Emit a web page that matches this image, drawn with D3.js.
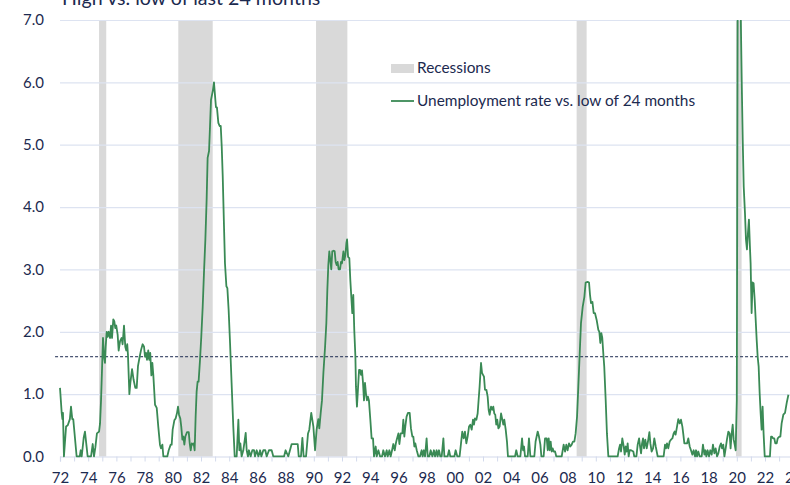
<!DOCTYPE html>
<html>
<head>
<meta charset="utf-8">
<script src="https://cdn.jsdelivr.net/npm/d3@7"></script>
<style>
  html, body { margin: 0; padding: 0; background: #fff; }
  svg { display: block; font-family: Lato, "Open Sans", sans-serif; }
</style>
</head>
<body>
<div id="chart"></div>
<script>
// chart values
const titleText = "High vs. low of last 24 months";
const lineLabel = "Unemployment rate vs. low of 24 months";
const recessionLabel = "Recessions";

const yTicks = [0, 1, 2, 3, 4, 5, 6, 7];
const xTickYears = d3.range(1972, 2025, 1);
const xLabelYears = d3.range(1972, 2025, 2);

const threshold = 1.6;
const thresholdSpan = [1971.65, 2024];

// recession bands [start, end] as decimal years
const recessions = [
  [1974.77, 1975.28],
  [1980.39, 1982.83],
  [1990.16, 1992.38],
  [2008.64, 2009.35],
  [2019.94, 2020.34]
];

// [decimal year, unemployment rate minus 24-month low]
const gapSeries = [
  [1972.00,1.10],[1972.12,0.70],[1972.17,0.60],[1972.21,0.70],[1972.28,0.00],[1972.43,0.48],[1972.55,0.50],[1972.70,0.60],[1972.78,0.80],[1972.87,0.60],[1972.94,0.60],[1973.18,0.00],[1973.40,0.00],[1973.47,0.10],[1973.54,0.00],[1973.68,0.30],[1973.77,0.40],[1973.89,0.15],[1973.96,0.00],[1974.20,0.00],[1974.32,0.20],[1974.41,0.00],[1974.51,0.15],[1974.62,0.37],[1974.77,0.40],[1974.84,0.53],[1974.91,0.90],[1974.98,1.40],[1975.05,1.90],[1975.12,1.60],[1975.19,1.50],[1975.24,1.76],[1975.31,2.00],[1975.38,1.92],[1975.45,2.00],[1975.55,1.90],[1975.62,2.10],[1975.69,1.90],[1975.78,2.20],[1975.85,2.17],[1975.92,2.06],[1975.99,2.10],[1976.09,1.95],[1976.16,1.70],[1976.26,1.85],[1976.37,1.90],[1976.44,1.80],[1976.54,2.10],[1976.63,1.76],[1976.70,1.70],[1976.77,1.80],[1976.82,1.63],[1976.92,1.00],[1976.99,1.18],[1977.11,1.40],[1977.22,1.23],[1977.34,1.10],[1977.44,1.10],[1977.53,1.45],[1977.65,1.60],[1977.75,1.71],[1977.86,1.80],[1977.96,1.76],[1978.03,1.60],[1978.10,1.66],[1978.17,1.55],[1978.26,1.70],[1978.33,1.55],[1978.40,1.66],[1978.48,1.30],[1978.55,1.50],[1978.62,1.30],[1978.74,0.83],[1978.86,0.78],[1978.97,0.48],[1979.09,0.19],[1979.16,0.13],[1979.26,0.19],[1979.33,0.00],[1979.61,0.00],[1979.71,0.10],[1979.85,0.19],[1979.92,0.19],[1979.99,0.43],[1980.11,0.58],[1980.20,0.61],[1980.30,0.70],[1980.37,0.80],[1980.44,0.67],[1980.53,0.61],[1980.60,0.48],[1980.68,0.27],[1980.75,0.32],[1980.82,0.19],[1980.89,0.32],[1981.01,0.39],[1981.13,0.39],[1981.20,0.21],[1981.27,0.10],[1981.34,0.21],[1981.41,0.19],[1981.48,0.21],[1981.55,0.10],[1981.62,0.64],[1981.69,1.04],[1981.76,1.20],[1981.83,1.20],[1981.93,1.55],[1982.02,1.92],[1982.12,2.40],[1982.21,2.94],[1982.31,3.48],[1982.40,4.12],[1982.47,4.79],[1982.57,4.90],[1982.64,5.30],[1982.71,5.72],[1982.78,5.80],[1982.85,5.88],[1982.92,6.00],[1982.99,5.80],[1983.06,5.60],[1983.13,5.60],[1983.23,5.35],[1983.32,5.30],[1983.40,5.30],[1983.47,4.97],[1983.54,4.50],[1983.63,3.70],[1983.70,3.10],[1983.80,2.73],[1983.87,2.70],[1983.96,2.35],[1984.06,1.82],[1984.17,1.18],[1984.29,0.48],[1984.39,0.00],
  [1984.53,0.00],[1984.65,0.59],[1984.72,0.10],[1984.79,0.21],[1984.88,0.00],[1985.00,0.10],[1985.07,0.21],[1985.17,0.38],[1985.24,0.10],[1985.33,0.00],[1985.40,0.10],[1985.52,0.00],[1985.64,0.10],[1985.76,0.10],[1985.83,0.00],[1985.95,0.10],[1986.07,0.00],[1986.19,0.10],[1986.28,0.00],[1986.42,0.10],[1986.56,0.10],[1986.66,0.00],[1986.82,0.10],[1987.01,0.10],[1987.13,0.00],[1987.89,0.00],[1988.00,0.10],[1988.19,0.00],[1988.31,0.10],[1988.43,0.20],[1988.86,0.20],[1988.93,0.00],[1989.09,0.00],[1989.19,0.30],[1989.28,0.00],[1989.45,0.00],[1989.59,0.37],[1989.68,0.43],[1989.82,0.70],[1989.97,0.48],[1990.09,0.10],[1990.20,0.43],[1990.32,0.60],[1990.39,0.45],[1990.49,0.70],[1990.58,0.90],[1990.68,1.34],[1990.80,1.76],[1990.89,2.14],[1990.96,2.67],[1991.03,3.07],[1991.10,3.29],[1991.17,3.15],[1991.24,3.00],[1991.31,3.29],[1991.41,3.30],[1991.48,3.29],[1991.55,3.12],[1991.62,3.07],[1991.69,3.12],[1991.76,3.00],[1991.86,3.00],[1991.93,3.12],[1992.00,3.10],[1992.10,3.29],[1992.17,3.15],[1992.24,3.23],[1992.31,3.42],[1992.36,3.48],[1992.43,3.20],[1992.52,3.18],[1992.59,2.83],[1992.66,2.56],[1992.73,2.30],[1992.80,2.59],[1992.87,2.03],[1992.95,1.60],[1992.99,1.12],[1993.06,0.80],[1993.13,1.07],[1993.21,1.39],[1993.28,1.39],[1993.35,1.31],[1993.42,1.38],[1993.49,1.18],[1993.56,0.90],[1993.63,1.18],[1993.70,1.01],[1993.77,0.90],[1993.84,0.96],[1993.91,0.90],[1994.01,0.59],[1994.10,0.29],[1994.20,0.29],[1994.27,0.00],[1994.39,0.16],[1994.46,0.00],[1994.58,0.10],[1994.70,0.00],[1994.84,0.00],[1994.93,0.10],[1995.05,0.00],[1995.17,0.10],[1995.24,0.00],[1995.36,0.10],[1995.45,0.00],[1995.55,0.10],[1995.64,0.20],[1995.74,0.10],[1995.81,0.20],[1995.88,0.27],[1996.00,0.37],[1996.07,0.20],[1996.16,0.37],[1996.28,0.37],[1996.35,0.59],[1996.42,0.32],[1996.49,0.48],[1996.58,0.64],[1996.68,0.70],[1996.80,0.70],[1996.89,0.45],[1996.99,0.32],[1997.06,0.32],[1997.13,0.16],[1997.20,0.21],[1997.30,0.10],[1997.42,0.00],
  [1997.53,0.00],[1997.65,0.10],[1997.72,0.00],[1997.81,0.10],[1997.89,0.00],[1998.00,0.29],[1998.08,0.00],[1998.19,0.00],[1998.29,0.10],[1998.41,0.00],[1998.52,0.10],[1998.60,0.00],[1998.71,0.10],[1998.78,0.00],[1998.88,0.10],[1998.97,0.00],[1999.07,0.00],[1999.19,0.29],[1999.26,0.00],[1999.49,0.00],[1999.59,0.10],[1999.68,0.00],[1999.97,0.00],[2000.06,0.10],[2000.18,0.00],[2000.34,0.00],[2000.44,0.21],[2000.53,0.40],[2000.63,0.29],[2000.72,0.40],[2000.82,0.21],[2000.91,0.32],[2001.01,0.48],[2001.10,0.51],[2001.20,0.43],[2001.29,0.59],[2001.36,0.51],[2001.43,0.61],[2001.53,0.59],[2001.62,0.69],[2001.69,0.91],[2001.76,1.12],[2001.86,1.50],[2001.93,1.34],[2002.00,1.31],[2002.07,1.28],[2002.14,1.07],[2002.24,1.07],[2002.33,0.96],[2002.40,0.75],[2002.47,0.67],[2002.57,0.80],[2002.66,0.75],[2002.73,0.80],[2002.80,0.69],[2002.87,0.67],[2002.94,0.51],[2003.01,0.59],[2003.09,0.45],[2003.18,0.48],[2003.28,0.69],[2003.37,0.59],[2003.44,0.51],[2003.51,0.59],[2003.61,0.43],[2003.70,0.24],[2003.77,0.00],[2004.27,0.00],[2004.36,0.10],[2004.46,0.00],[2004.65,0.00],[2004.77,0.29],[2004.84,0.10],[2004.91,0.16],[2004.98,0.00],[2005.17,0.00],[2005.26,0.29],[2005.36,0.00],[2005.64,0.00],[2005.73,0.24],[2005.88,0.40],[2005.97,0.32],[2006.07,0.19],[2006.14,0.00],[2006.30,0.00],[2006.40,0.29],[2006.52,0.29],[2006.59,0.10],[2006.66,0.29],[2006.73,0.10],[2006.80,0.24],[2006.87,0.08],[2006.94,0.13],[2007.01,0.08],[2007.11,0.08],[2007.20,0.00],[2007.58,0.00],[2007.72,0.19],[2007.82,0.08],[2007.91,0.19],[2008.00,0.10],[2008.10,0.21],[2008.19,0.16],[2008.29,0.19],[2008.38,0.24],[2008.48,0.24],[2008.57,0.37],[2008.67,0.64],[2008.76,1.12],[2008.86,1.66],[2008.95,2.14],[2009.07,2.40],[2009.19,2.56],[2009.28,2.79],[2009.42,2.80],[2009.52,2.79],[2009.59,2.59],[2009.66,2.46],[2009.76,2.48],[2009.85,2.30],[2009.94,2.30],[2010.06,2.19],[2010.18,2.03],[2010.25,2.00],[2010.32,1.82],[2010.39,1.98],[2010.46,1.90],[2010.53,1.66],[2010.60,1.44],[2010.70,0.91],[2010.79,0.37],[2010.89,0.00],
  [2011.55,0.00],[2011.65,0.13],[2011.72,0.19],[2011.79,0.08],[2011.88,0.29],[2011.98,0.16],[2012.05,0.03],[2012.12,0.16],[2012.19,0.08],[2012.26,0.21],[2012.33,0.00],[2012.40,0.10],[2012.50,0.10],[2012.66,0.08],[2012.73,0.00],[2012.88,0.00],[2012.97,0.19],[2013.07,0.29],[2013.14,0.16],[2013.21,0.05],[2013.28,0.21],[2013.35,0.29],[2013.42,0.13],[2013.51,0.27],[2013.61,0.13],[2013.70,0.24],[2013.80,0.39],[2013.87,0.21],[2013.96,0.08],[2014.06,0.13],[2014.15,0.29],[2014.25,0.16],[2014.32,0.08],[2014.39,0.00],[2014.81,0.00],[2014.91,0.19],[2014.98,0.13],[2015.05,0.21],[2015.14,0.13],[2015.24,0.24],[2015.33,0.27],[2015.43,0.29],[2015.52,0.37],[2015.59,0.40],[2015.66,0.35],[2015.76,0.48],[2015.85,0.60],[2015.95,0.53],[2016.04,0.59],[2016.14,0.48],[2016.21,0.35],[2016.28,0.21],[2016.37,0.21],[2016.47,0.21],[2016.56,0.29],[2016.66,0.16],[2016.75,0.10],[2016.85,0.03],[2016.94,0.10],[2017.04,0.00],[2017.11,0.10],[2017.18,0.00],[2017.27,0.08],[2017.37,0.00],[2017.51,0.00],[2017.60,0.19],[2017.70,0.03],[2017.77,0.10],[2017.84,0.00],[2017.93,0.10],[2018.03,0.00],[2018.12,0.10],[2018.22,0.03],[2018.31,0.19],[2018.41,0.05],[2018.50,0.13],[2018.60,0.00],[2018.69,0.05],[2018.79,0.16],[2018.88,0.21],[2018.95,0.13],[2019.04,0.19],[2019.12,0.00],[2019.23,0.16],[2019.30,0.27],[2019.40,0.40],[2019.49,0.37],[2019.56,0.13],[2019.63,0.35],[2019.71,0.51],[2019.78,0.27],[2019.85,0.19],[2019.92,0.10],[2020.00,0.90],[2020.10,11.20],[2020.18,9.70],[2020.26,7.40],[2020.35,6.00],[2020.42,5.08],[2020.49,4.33],[2020.58,3.90],[2020.65,3.48],[2020.72,3.32],[2020.79,3.58],[2020.86,3.80],[2020.93,3.37],[2020.98,3.10],[2021.05,2.30],[2021.12,2.79],[2021.19,2.78],[2021.27,2.51],[2021.34,2.19],[2021.41,1.87],[2021.48,1.60],[2021.55,1.44],[2021.62,1.02],[2021.69,0.70],[2021.76,0.43],[2021.83,0.80],[2021.90,0.37],[2021.98,0.00],[2022.35,0.00],[2022.43,0.32],[2022.50,0.32],[2022.57,0.29],[2022.66,0.29],[2022.73,0.21],[2022.83,0.21],[2022.90,0.29],[2023.02,0.32],[2023.09,0.32],[2023.18,0.53],[2023.30,0.67],[2023.42,0.70],[2023.54,0.86],[2023.66,0.99]
];

const width = 790, height = 485;
const navy = "#1c2a4f";
const gridColor = "#dde3f1";
const green = "#3a8a55";

const svg = d3.select("#chart")
  .append("svg")
  .attr("width", width)
  .attr("height", height);

const x = d3.scaleLinear().domain([1972, 2024]).range([60, 793.2]);
const y = d3.scaleLinear().domain([0, 7]).range([456.5, 20]);

svg.append("defs").append("clipPath")
  .attr("id", "plotClip")
  .append("rect")
  .attr("x", 0).attr("y", y(7))
  .attr("width", width).attr("height", y(0) - y(7) + 1);

// recession shading
svg.append("g")
  .selectAll("rect")
  .data(recessions)
  .enter()
  .append("rect")
  .attr("x", d => x(d[0]))
  .attr("y", y(7))
  .attr("width", d => x(d[1]) - x(d[0]))
  .attr("height", y(0) - y(7))
  .style("fill", "#d9d9d9");

// horizontal grid
const yAxis = d3.axisLeft(y)
  .tickValues(yTicks)
  .tickSize(-(x(2024) - x(1972)))
  .tickPadding(16)
  .tickFormat(d3.format(".1f"));

const gy = svg.append("g")
  .attr("transform", `translate(${x(1972)},0)`)
  .call(yAxis);
gy.select(".domain").remove();
gy.selectAll(".tick line")
  .attr("stroke", gridColor)
  .attr("stroke-width", 1.2)
  .filter(d => d === 0).remove();
gy.selectAll(".tick text")
  .attr("fill", navy)
  .style("font-size", "15px")
  .style("font-family", "Lato, sans-serif");

// x axis
const xAxis = d3.axisBottom(x)
  .tickValues(xTickYears)
  .tickSize(5)
  .tickFormat(d => xLabelYears.includes(d) ? String(d).slice(2) : "");

const gx = svg.append("g")
  .attr("transform", `translate(0,${y(0)})`)
  .call(xAxis);
gx.select(".domain").attr("stroke", "#d3daec").attr("stroke-width", 1.2);
gx.selectAll(".tick line").attr("stroke", "#d3daec");
gx.selectAll(".tick text")
  .attr("fill", navy)
  .attr("dy", "1.2em")
  .style("font-size", "15px")
  .style("font-family", "Lato, sans-serif");

// dashed reference level
svg.append("line")
  .attr("x1", x(thresholdSpan[0]))
  .attr("x2", x(thresholdSpan[1]))
  .attr("y1", y(threshold))
  .attr("y2", y(threshold))
  .attr("stroke", navy)
  .attr("stroke-width", 1)
  .attr("stroke-dasharray", "3,2");

// main series
const line = d3.line()
  .x(d => x(d[0]))
  .y(d => y(d[1]));

svg.append("path")
  .datum(gapSeries)
  .attr("clip-path", "url(#plotClip)")
  .attr("d", line)
  .attr("fill", "none")
  .attr("stroke", green)
  .attr("stroke-width", 1.8)
  .attr("stroke-linejoin", "round");

// legend
const legend = svg.append("g").attr("transform", "translate(391,0)");
legend.append("rect")
  .attr("x", 0).attr("y", 64)
  .attr("width", 23).attr("height", 9)
  .style("fill", "#d9d9d9");
legend.append("text")
  .attr("x", 26).attr("y", 73)
  .attr("fill", navy)
  .style("font-size", "15.4px")
  .text(recessionLabel);
legend.append("line")
  .attr("x1", 0).attr("x2", 23)
  .attr("y1", 101).attr("y2", 101)
  .attr("stroke", green)
  .attr("stroke-width", 1.8);
legend.append("text")
  .attr("x", 26).attr("y", 106)
  .attr("fill", navy)
  .style("font-size", "15.4px")
  .text(lineLabel);

// title (cut off at top in the original)
svg.append("text")
  .attr("x", 62).attr("y", 5)
  .attr("fill", navy)
  .style("font-size", "19.6px")
  .text(titleText);
</script>
</body>
</html>
